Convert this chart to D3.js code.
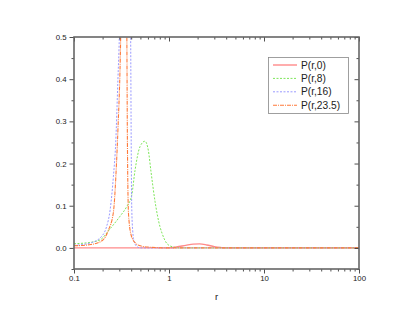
<!DOCTYPE html>
<html>
<head>
<meta charset="utf-8">
<script src="https://cdn.jsdelivr.net/npm/d3@7"></script>
<style>
  body { margin: 0; background: #fff; }
  svg { display: block; font-family: "Liberation Sans", Arial, sans-serif; }
</style>
</head>
<body>
<svg id="chart" width="418" height="323"></svg>
<script>
// values (r on a log axis)
const r0 = [0.1, 1, 1.2, 1.5, 1.8, 2.1, 2.5, 3, 3.5, 4, 100];
const p0 = [0, 0, 0.002, 0.006, 0.009, 0.0095, 0.007, 0.003, 0.001, 0, 0];

const r8 = [0.1, 0.147, 0.188, 0.239, 0.305, 0.359, 0.405, 0.439, 0.495, 0.558, 0.605, 0.647, 0.713, 0.804, 0.844, 0.953, 1.076, 1.3, 100];
const p8 = [0.01, 0.013, 0.019, 0.045, 0.075, 0.098, 0.125, 0.184, 0.24, 0.253, 0.232, 0.18, 0.11, 0.05, 0.035, 0.01, 0.003, 0, 0];

const r16 = [0.1, 0.15, 0.2, 0.22, 0.24, 0.26, 0.275, 0.29, 0.30, 0.32, 0.35, 0.38, 0.395, 0.40, 0.405, 0.415, 0.43, 0.46, 0.5, 100];
const p16 = [0.006, 0.012, 0.03, 0.05, 0.09, 0.17, 0.25, 0.4, 0.5, 0.9, 1.1, 0.9, 0.5, 0.25, 0.1, 0.04, 0.015, 0.003, 0, 0];

const r23 = [0.1, 0.15, 0.2, 0.23, 0.26, 0.28, 0.29, 0.31, 0.33, 0.35, 0.36, 0.365, 0.375, 0.4, 0.45, 0.5, 0.6, 1, 100];
const p23 = [0.005, 0.008, 0.018, 0.042, 0.085, 0.2, 0.28, 0.5, 1.0, 0.9, 0.5, 0.25, 0.08, 0.03, 0.01, 0.005, 0.002, 0, 0];

const seriesNames = ["P(r,0)", "P(r,8)", "P(r,16)", "P(r,23.5)"];
const xTickLabels = ["0.1", "1", "10", "100"];
const yTickLabels = ["0.0", "0.1", "0.2", "0.3", "0.4", "0.5"];

const series = [
  { name: seriesNames[0], r: r0, p: p0, color: "#ff8a8a", dash: null, width: 1.4 },
  { name: seriesNames[1], r: r8, p: p8, color: "#7ee65a", dash: "2,1.5", width: 1 },
  { name: seriesNames[2], r: r16, p: p16, color: "#9a9aff", dash: "2,1.5", width: 1 },
  { name: seriesNames[3], r: r23, p: p23, color: "#ff7a3a", dash: "4,1,1,1", width: 1.1 }
];

const plotL = 74, plotR = 359, plotT = 37, plotB = 269;

const svg = d3.select("#chart");

const x = d3.scaleLog().domain([0.1, 100]).range([plotL, plotR]);
const y = d3.scaleLinear().domain([-0.05, 0.5]).range([plotB, plotT]);

svg.append("clipPath").attr("id", "plot-clip")
  .append("rect")
  .attr("x", plotL).attr("y", plotT)
  .attr("width", plotR - plotL).attr("height", plotB - plotT);

// curves
const line = d3.line()
  .x(d => x(d[0]))
  .y(d => y(d[1]))
  .curve(d3.curveMonotoneX);

const curves = svg.append("g").attr("clip-path", "url(#plot-clip)");
series.forEach(s => {
  curves.append("path")
    .datum(s.r.map((v, i) => [v, s.p[i]]))
    .attr("d", line)
    .attr("fill", "none")
    .attr("stroke", s.color)
    .attr("stroke-width", s.width)
    .attr("stroke-dasharray", s.dash);
});

// ticks
const xMinor = [];
[0.1, 1, 10].forEach(dec => { for (let k = 2; k <= 9; k++) xMinor.push(dec * k); });
const xMajor = [0.1, 1, 10, 100];
const yMajor = [0, 0.1, 0.2, 0.3, 0.4, 0.5];
const yMinor = d3.range(-0.05, 0.5, 0.1);

const bottomAxis = d3.axisBottom(x).tickValues(xMajor).tickSize(4.5).tickPadding(2).tickFormat((d, i) => xTickLabels[i]);
const leftAxis = d3.axisLeft(y).tickValues(yMajor).tickSize(4.5).tickFormat((d, i) => yTickLabels[i]);

svg.append("g").attr("transform", `translate(0,${plotB})`).call(bottomAxis);
svg.append("g").attr("transform", `translate(0,${plotB})`)
  .call(d3.axisBottom(x).tickValues(xMinor).tickSize(2.5).tickFormat(""));
svg.append("g").attr("transform", `translate(0,${plotT})`)
  .call(d3.axisBottom(x).tickValues(xMajor).tickSize(4.5).tickFormat(""));
svg.append("g").attr("transform", `translate(0,${plotT})`)
  .call(d3.axisBottom(x).tickValues(xMinor).tickSize(2.5).tickFormat(""));

svg.append("g").attr("transform", `translate(${plotL},0)`).call(leftAxis);
svg.append("g").attr("transform", `translate(${plotL},0)`)
  .call(d3.axisLeft(y).tickValues(yMinor).tickSize(2.5).tickFormat(""));
svg.append("g").attr("transform", `translate(${plotR},0)`)
  .call(d3.axisLeft(y).tickValues(yMajor).tickSize(4.5).tickFormat(""));
svg.append("g").attr("transform", `translate(${plotR},0)`)
  .call(d3.axisLeft(y).tickValues(yMinor).tickSize(2.5).tickFormat(""));

svg.selectAll(".domain").remove();
svg.selectAll(".tick line").attr("stroke", "#222").attr("stroke-width", 0.8);
svg.selectAll(".tick text").attr("font-size", "7.8px").attr("fill", "#222")
  .attr("font-family", "'Liberation Sans', Arial, sans-serif");

// frame
svg.append("rect")
  .attr("x", plotL).attr("y", plotT)
  .attr("width", plotR - plotL).attr("height", plotB - plotT)
  .attr("fill", "none").attr("stroke", "#666").attr("stroke-width", 1.6);

// axis title
svg.append("text")
  .attr("x", (plotL + plotR) / 2).attr("y", 300)
  .attr("text-anchor", "middle")
  .attr("font-size", "9.5px").attr("fill", "#222")
  .text("r");

// legend
const lg = svg.append("g");
lg.append("rect")
  .attr("x", 268.5).attr("y", 57.5).attr("width", 80).attr("height", 56)
  .attr("fill", "#fff").attr("stroke", "#888").attr("stroke-width", 0.8);
series.forEach((s, i) => {
  const yy = 65 + i * 13.4;
  lg.append("line")
    .attr("x1", 273).attr("x2", 297).attr("y1", yy).attr("y2", yy)
    .attr("stroke", s.color).attr("stroke-width", s.width)
    .attr("stroke-dasharray", s.dash);
  lg.append("text")
    .attr("x", 301).attr("y", yy + 3.6)
    .attr("font-size", "10.2px").attr("fill", "#222")
    .text(s.name);
});
</script>
</body>
</html>
